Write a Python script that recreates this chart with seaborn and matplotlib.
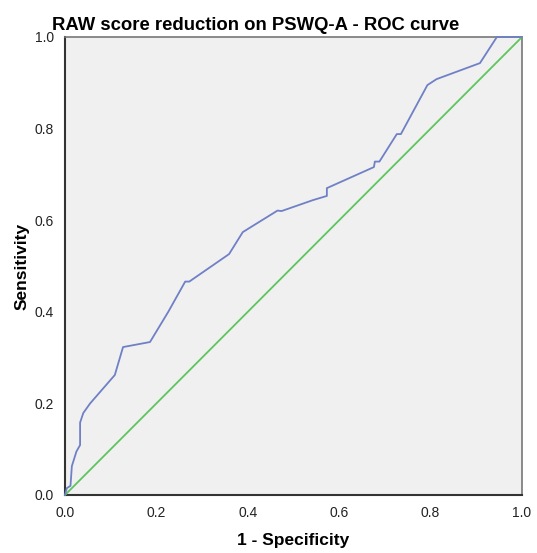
import matplotlib
matplotlib.use("Agg")
import matplotlib.pyplot as plt
import seaborn as sns
import pandas as pd

fpr = [0.0, 0.004, 0.012, 0.015, 0.025, 0.033, 0.033, 0.040, 0.055, 0.109, 0.127, 0.186,
       0.226, 0.263, 0.272, 0.359, 0.389, 0.465, 0.474, 0.543, 0.573, 0.573, 0.676, 0.678,
       0.688, 0.726, 0.735, 0.793, 0.813, 0.908, 0.945, 1.0]
tpr = [0.0, 0.015, 0.020, 0.063, 0.095, 0.109, 0.158, 0.179, 0.200, 0.262, 0.323, 0.334,
       0.400, 0.466, 0.466, 0.526, 0.574, 0.621, 0.620, 0.644, 0.653, 0.670, 0.716, 0.728,
       0.728, 0.788, 0.788, 0.895, 0.908, 0.943, 1.0, 1.0]
ref = [0.0, 1.0]
ticks = [0.0, 0.2, 0.4, 0.6, 0.8, 1.0]
tick_labels = ["0.0", "0.2", "0.4", "0.6", "0.8", "1.0"]

sns.set_style("white")
plt.rcParams['font.family'] = ['Liberation Sans', 'DejaVu Sans']

fig = plt.figure(figsize=(5.37, 5.53), dpi=100)
ax = fig.add_axes([65/537, 58/553, 457/537, 458/553])
ax.set_facecolor("#F0F0F0")

df = pd.DataFrame({"fpr": fpr, "tpr": tpr})
sns.lineplot(data=df, x="fpr", y="tpr", ax=ax, color="#6F80C6", lw=1.3, sort=False,
             estimator=None, clip_on=False, zorder=5)
sns.lineplot(x=ref, y=ref, ax=ax, color="#5CC65C", lw=1.3, clip_on=False, zorder=4)

ax.set_xlim(0, 1)
ax.set_ylim(0, 1)
ax.set_xticks(ticks)
ax.set_xticklabels(tick_labels)
ax.set_yticks(ticks)
ax.set_yticklabels(tick_labels)
ax.tick_params(direction="out", length=6, width=1.2, color="#333333", labelsize=10, labelcolor="#222222", pad=2)
for s in ["left", "bottom"]:
    ax.spines[s].set_color("#333333")
    ax.spines[s].set_linewidth(1.5)
for s in ["top", "right"]:
    ax.spines[s].set_color("#777777")
    ax.spines[s].set_linewidth(1.2)

ax.set_xlabel("1 - Specificity", fontsize=12.5, fontweight="bold", labelpad=9, color="black")
ax.set_ylabel("Sensitivity", fontsize=12.5, fontweight="bold", labelpad=3.5, color="black")
fig.text(52/537, 1 - 30/553, "RAW score reduction on PSWQ-A - ROC curve",
         fontsize=13.3, fontweight="bold", ha="left", va="baseline", color="black")

fig.savefig("out.png", dpi=100)
